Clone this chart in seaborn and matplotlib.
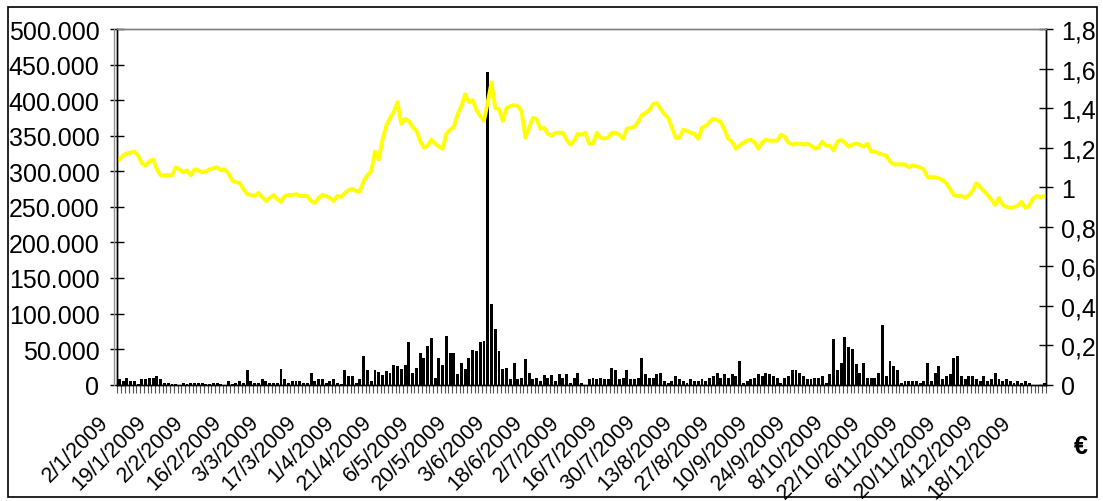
import numpy as np
import pandas as pd
import matplotlib
matplotlib.use('Agg')
import matplotlib.pyplot as plt
from matplotlib.patches import Rectangle
from matplotlib.ticker import FuncFormatter, MultipleLocator
from matplotlib.transforms import ScaledTranslation
import seaborn as sns

# DATA (one value per trading day)

# daily volume, thousands of shares
volume_k = [
    8, 5, 10, 5.5, 5.5, 1, 8, 8, 10, 9,
    12, 8, 3, 3, 1, 0.5, 0, 3, 1,
    3, 3, 3, 3, 0.5, 0.5, 3, 3, 0.5,
    0, 5, 0.5, 3, 5, 3, 20, 5, 3, 3,
    8, 5, 3, 3, 3, 22, 8, 3, 5, 5,
    5, 3, 3, 17, 5, 8, 8, 3, 5, 8,
    3, 0.5, 20, 12, 12, 2, 8, 41, 20, 5,
    20, 18, 14, 19, 17, 28, 26, 22, 28,
    60, 17, 23, 44, 37, 55, 66, 10, 37, 28,
    68, 44, 44, 15, 30, 22, 37, 49, 47, 60,
    62, 440, 113, 78, 47, 22, 24, 8, 31, 8,
    10, 36, 17, 8, 10, 5, 13, 10, 13,
    5, 15, 9, 15, 3, 10, 17, 2, 0, 8,
    10, 8, 10, 8, 8, 24, 20, 8, 10, 20,
    8, 8, 10, 37, 15, 10, 10, 15, 17, 5,
    2, 5, 12, 8, 5, 2, 8, 5, 5, 8,
    5, 10, 12, 17, 10, 15, 10, 15, 12,
    34, 2, 5, 8, 10, 15, 12, 17, 15, 12,
    10, 2, 10, 12, 20, 20, 17, 12, 8,
    8, 10, 10, 12, 2, 15, 64, 20, 31, 67,
    53, 50, 29, 17, 31, 10, 10, 10, 17, 84,
    12, 34, 26, 20, 2, 5, 5, 5, 5, 2,
    5, 31, 5, 17, 26, 8, 12, 15, 37, 41,
    12, 8, 12, 12, 8, 5, 12, 5, 8, 17,
    8, 5, 8, 5, 2, 5, 2, 5, 2, 0,
    0, 0, 3,
]

# closing price, euro
price_eur = [
    1.14, 1.16, 1.17, 1.175, 1.18, 1.16, 1.12, 1.11, 1.13, 1.14,
    1.09, 1.06, 1.06, 1.06, 1.06, 1.10, 1.09, 1.075, 1.085,
    1.06, 1.09, 1.085, 1.075, 1.08, 1.09, 1.095, 1.10, 1.085,
    1.09, 1.07, 1.035, 1.025, 1.02, 0.99, 0.965, 0.96, 0.955, 0.97,
    0.95, 0.93, 0.945, 0.96, 0.94, 0.925, 0.955, 0.96, 0.96, 0.965,
    0.955, 0.955, 0.955, 0.93, 0.92, 0.945, 0.96, 0.955, 0.945, 0.93,
    0.955, 0.95, 0.97, 0.985, 0.99, 0.98, 0.98, 1.03, 1.06, 1.08,
    1.18, 1.14, 1.24, 1.31, 1.35, 1.38, 1.43, 1.32, 1.345,
    1.335, 1.305, 1.285, 1.235, 1.20, 1.21, 1.24, 1.22, 1.205, 1.195,
    1.27, 1.29, 1.305, 1.37, 1.41, 1.47, 1.43, 1.44, 1.39, 1.36,
    1.335, 1.43, 1.53, 1.40, 1.395, 1.335, 1.40, 1.41, 1.415, 1.41,
    1.385, 1.25, 1.30, 1.35, 1.345, 1.295, 1.30, 1.27, 1.26,
    1.275, 1.275, 1.275, 1.24, 1.215, 1.235, 1.27, 1.265, 1.275, 1.22,
    1.22, 1.275, 1.25, 1.245, 1.25, 1.275, 1.275, 1.265, 1.245, 1.295,
    1.30, 1.305, 1.33, 1.365, 1.375, 1.39, 1.42, 1.425, 1.395, 1.37,
    1.35, 1.30, 1.25, 1.25, 1.29, 1.285, 1.275, 1.27, 1.245, 1.30,
    1.31, 1.33, 1.345, 1.34, 1.33, 1.29, 1.245, 1.23, 1.195,
    1.21, 1.225, 1.235, 1.24, 1.225, 1.195, 1.225, 1.24, 1.235, 1.235,
    1.235, 1.265, 1.255, 1.225, 1.215, 1.22, 1.22, 1.215, 1.22,
    1.21, 1.195, 1.20, 1.23, 1.21, 1.21, 1.185, 1.23, 1.24, 1.225,
    1.205, 1.215, 1.22, 1.215, 1.205, 1.22, 1.18, 1.18, 1.17, 1.165,
    1.16, 1.13, 1.115, 1.115, 1.115, 1.115, 1.10, 1.11, 1.105, 1.10,
    1.09, 1.05, 1.05, 1.05, 1.045, 1.035, 1.02, 0.99, 0.96, 0.955,
    0.955, 0.945, 0.96, 0.98, 1.02, 1.00, 0.98, 0.96, 0.935, 0.91,
    0.945, 0.91, 0.90, 0.895, 0.90, 0.905, 0.925, 0.895, 0.905, 0.94,
    0.955, 0.95, 0.955,
]

# one label every 10 trading days
date_labels = [
    '2/1/2009', '19/1/2009', '2/2/2009', '16/2/2009', '3/3/2009',
    '17/3/2009', '1/4/2009', '21/4/2009', '6/5/2009', '20/5/2009',
    '3/6/2009', '18/6/2009', '2/7/2009', '16/7/2009', '30/7/2009',
    '13/8/2009', '27/8/2009', '10/9/2009', '24/9/2009', '8/10/2009',
    '22/10/2009', '6/11/2009', '20/11/2009', '4/12/2009', '18/12/2009',
]
LABEL_STEP = 10

# PLOTTING

n = min(len(volume_k), len(price_eur))
df = pd.DataFrame({
    'day': np.arange(n),
    'volume': np.array(volume_k[:n]) * 1000,
    'price': price_eur[:n],
})

sns.set_theme(style='white')
plt.rcParams['font.family'] = ['Liberation Sans', 'DejaVu Sans']
plt.rcParams['ytick.labelsize'] = 18
plt.rcParams['xtick.labelsize'] = 15.5
for key in ('text.color', 'xtick.color', 'ytick.color', 'axes.labelcolor'):
    plt.rcParams[key] = 'black'

fig = plt.figure(figsize=(11.03, 5.02), dpi=100)
ax = fig.add_axes([0.1065, 0.2317, 0.8418, 0.7085])

sns.barplot(data=df, x='day', y='volume', color='black', saturation=1,
            width=0.78, errorbar=None, linewidth=0, edgecolor='black', ax=ax)

ax2 = ax.twinx()
sns.lineplot(data=df, x='day', y='price', color='#FFFF00', linewidth=2.8, ax=ax2)

ax.set_xlim(-0.5, n - 0.5)
ax.set_ylim(0, 500000)
ax2.set_ylim(0, 1.8)

# left axis: 500.000 style
ax.yaxis.set_major_locator(MultipleLocator(50000))
ax.yaxis.set_major_formatter(FuncFormatter(lambda v, p: f'{int(v):,}'.replace(',', '.')))
# right axis: 1,8 style
ax2.yaxis.set_major_locator(MultipleLocator(0.2))
ax2.yaxis.set_major_formatter(
    FuncFormatter(lambda v, p: f'{v:.1f}'.rstrip('0').rstrip('.').replace('.', ',')))

tick_pos = np.arange(0, n, LABEL_STEP)[:len(date_labels)]
ax.set_xticks(tick_pos)
ax.set_xticklabels(date_labels, rotation=45, ha='right', rotation_mode='anchor')
ax.set_xticks(np.arange(-0.5, n, 1), minor=True)

ax.set_xlabel('')
ax.set_ylabel('')
ax2.set_xlabel('')
ax2.set_ylabel('')

ax.tick_params(axis='y', which='major', direction='inout', length=10, width=1,
               color='black', labelsize=18, pad=8)
ax2.tick_params(axis='y', which='major', direction='inout', length=10, width=1,
                color='black', labelsize=18, pad=6)
ax.tick_params(axis='x', which='major', direction='out', length=0, pad=6, labelsize=15.5)
ax.tick_params(axis='x', which='minor', direction='out', length=6, width=0.8,
               color='#555555', bottom=True)

# push the rotated date labels down-left like the reference
shift = ScaledTranslation(-0.21, -0.18, fig.dpi_scale_trans)
for lbl in ax.get_xticklabels():
    lbl.set_transform(lbl.get_transform() + shift)

for a in (ax, ax2):
    a.spines['top'].set_color('#808080')
    a.spines['left'].set_color('black')
    a.spines['right'].set_color('black')
    a.spines['bottom'].set_color('black')
    for s in a.spines.values():
        s.set_linewidth(1)
    a.grid(False)
ax.set_facecolor('white')

# grey plot-area border next to the left axis
ax.plot([0, 0], [0, 1], transform=ax.transAxes + ScaledTranslation(-0.03, 0, fig.dpi_scale_trans),
        color='#909090', linewidth=1, clip_on=False)

# currency unit
fig.text(0.980, 0.11, '€', fontsize=18, fontweight='bold', ha='center', va='center')

# outer chart frame
fig.patches.append(Rectangle((8 / 1103, 4 / 502), 1089 / 1103, 490 / 502,
                             transform=fig.transFigure, fill=False,
                             edgecolor='black', linewidth=1.2))

fig.savefig('out.png', dpi=100, facecolor='white')
